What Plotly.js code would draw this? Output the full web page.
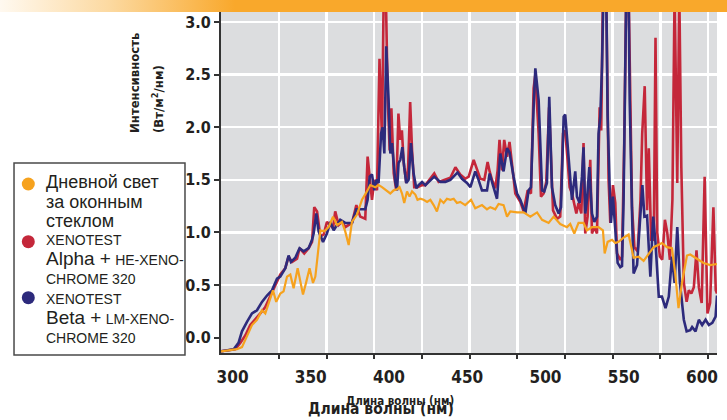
<!DOCTYPE html>
<html>
<head>
<meta charset="utf-8">
<script src="https://cdn.plot.ly/plotly-3.0.1.min.js"></script>
<style>
  html, body { margin: 0; padding: 0; background: #fff; }
  #wrap { position: relative; width: 727px; height: 420px; overflow: hidden; }
  #chart { position: absolute; left: 0; top: 0; width: 727px; height: 420px; }
  #band { position: absolute; left: 0; top: 0; width: 727px; height: 12px;
          background: linear-gradient(to right, #FFF9F0 0px, #FCD9A0 110px, #F9A82B 235px, #F9A82B 727px); }
</style>
</head>
<body>
<div id="wrap"><div id="chart"></div><div id="band"></div></div>
<script>
// ---- Data (wavelength in nm, intensity in W/m^2/nm) ----
const wlDaylight = [292.6,302.8,306.0,309.2,312.4,315.6,318.8,320.9,323.0,325.8,327.9,330.5,332.6,334.8,336.9,339.0,341.6,343.7,345.0,347.1,349.2,351.4,352.9,354.3,356.1,358.6,361.4,364.2,366.7,369.9,372.0,374.2,376.3,379.5,382.7,385.9,388.0,391.2,393.3,395.5,398.7,400.8,402.9,405.1,406.7,408.3,409.7,411.5,413.1,414.7,416.8,418.2,420.0,422.1,424.3,426.4,428.5,430.6,432.8,434.9,437.0,439.2,441.3,443.4,445.5,448.7,452.4,455.1,459.4,462.6,464.7,467.9,470.0,473.2,475.4,477.5,481.8,486.0,490.3,494.6,497.8,502.0,505.2,509.4,513.7,515.8,518.4,521.1,524.3,526.5,529.7,533.9,536.7,537.8,539.7,542.5,544.6,546.7,549.9,553.1,556.3,559.5,562.7,565.9,569.1,574.4,577.6,580.8,582.9,585.0,587.2,590.4,592.5,596.8,601.0,605.3,609.6];
const valDaylight = [-0.13,-0.11,-0.09,0.01,0.12,0.17,0.26,0.23,0.33,0.45,0.34,0.42,0.44,0.58,0.60,0.47,0.66,0.52,0.41,0.53,0.66,0.52,0.58,0.77,1.02,1.01,1.05,1.15,1.07,1.10,1.01,0.88,1.10,1.17,1.31,1.39,1.45,1.43,1.45,1.43,1.39,1.37,1.40,1.41,1.43,1.37,1.28,1.39,1.34,1.39,1.36,1.31,1.32,1.31,1.29,1.31,1.26,1.20,1.31,1.28,1.32,1.31,1.32,1.28,1.29,1.26,1.31,1.23,1.26,1.22,1.24,1.22,1.27,1.26,1.15,1.20,1.19,1.19,1.15,1.19,1.12,1.09,1.15,1.08,1.05,1.08,0.99,1.09,1.09,1.02,1.05,1.05,1.02,0.80,0.91,0.93,0.90,0.91,0.95,0.98,0.76,0.77,0.73,0.80,0.86,0.90,0.86,0.85,0.61,0.28,0.52,0.78,0.79,0.75,0.71,0.69,0.70];

const wlAlpha = [292.6,301.7,304.9,308.1,311.3,314.5,317.7,320.9,324.1,327.3,330.5,333.7,335.8,338.0,341.2,342.8,345.8,348.6,350.8,352.2,354.0,356.1,358.2,360.3,362.0,364.2,365.6,367.8,369.9,372.0,376.3,379.1,381.6,384.8,386.3,387.6,389.1,390.6,392.3,393.9,395.5,396.6,397.9,399.2,400.4,401.5,403.0,404.6,406.0,407.1,408.2,409.4,411.0,412.2,413.5,414.7,416.1,418.2,421.1,423.2,426.4,428.9,431.7,434.9,439.2,442.4,445.5,448.7,450.9,454.1,456.2,458.3,460.9,463.0,464.3,465.8,467.9,469.4,470.6,472.2,473.6,475.4,477.0,478.6,480.7,483.9,486.0,488.6,490.7,492.4,493.5,495.6,497.1,498.8,500.5,502.3,503.5,504.8,507.4,509.4,511.2,512.6,514.1,515.4,516.9,517.9,519.7,521.1,522.9,524.3,525.4,526.9,528.6,529.7,531.2,532.9,534.6,535.6,536.7,538.8,540.3,541.4,543.1,544.6,545.7,547.8,548.9,550.3,551.6,553.1,554.2,555.3,556.8,558.9,560.7,561.8,563.4,564.9,566.0,567.5,569.2,570.3,571.4,573.1,574.6,576.3,577.8,579.5,581.1,582.5,584.2,585.5,586.8,588.4,590.2,591.6,593.2,594.8,596.5,598.0,599.8,601.7,603.5,605.2,607.3,608.8,609.6];
const valAlpha = [-0.13,-0.11,-0.05,0.02,0.12,0.17,0.23,0.29,0.39,0.50,0.60,0.66,0.77,0.72,0.75,0.85,0.80,0.85,0.91,1.24,1.20,0.96,0.98,1.10,1.07,1.04,1.20,1.07,1.10,1.05,1.09,1.26,1.15,1.13,1.72,1.53,1.31,1.50,1.40,2.65,1.88,3.30,3.30,2.26,1.78,2.18,1.56,1.40,2.13,1.88,1.97,1.66,1.47,1.62,2.24,1.78,1.43,1.43,1.45,1.45,1.51,1.56,1.48,1.50,1.52,1.62,1.55,1.51,1.53,1.69,1.59,1.51,1.50,1.67,1.58,1.50,1.42,1.59,1.88,1.59,1.88,1.72,1.86,1.62,1.37,1.29,1.20,1.40,1.37,2.37,2.50,1.94,1.34,1.37,1.48,2.19,1.62,1.21,1.13,1.15,1.94,1.97,1.69,1.43,1.37,1.31,1.18,1.28,1.18,1.85,0.99,1.15,1.69,0.99,1.05,0.99,2.19,1.97,3.30,3.30,1.50,1.09,1.45,1.28,0.80,0.74,0.77,1.85,3.30,3.30,2.26,1.24,0.86,0.82,1.31,1.94,2.39,1.21,1.80,0.93,0.93,2.85,1.00,0.77,0.74,1.12,1.00,0.74,1.31,3.30,1.47,3.30,1.62,0.52,0.34,0.45,0.42,0.48,0.83,0.48,0.33,1.53,0.23,0.33,1.24,0.45,0.42];

const wlBeta = [292.6,300.7,303.8,306.0,309.2,312.4,315.6,318.8,322.0,325.2,328.4,330.5,333.7,335.8,337.3,340.1,342.8,345.4,348.6,350.8,351.8,353.5,355.0,357.8,360.3,362.5,364.6,366.7,368.8,372.0,376.3,379.1,382.7,384.8,386.3,387.6,389.1,390.6,391.9,393.3,394.9,395.9,397.0,398.2,399.7,400.8,401.9,402.9,404.0,405.1,406.1,407.2,408.5,409.7,411.0,412.5,414.0,415.7,417.4,418.9,421.1,423.2,426.4,428.9,432.8,436.0,439.2,441.3,443.8,446.6,449.8,452.0,455.1,457.2,459.4,462.6,464.3,466.4,469.0,471.1,473.2,475.4,477.0,479.6,481.8,483.9,487.1,489.2,490.7,492.4,493.5,495.6,497.8,499.2,500.9,502.4,504.1,506.2,508.4,509.9,511.6,512.6,513.7,515.4,516.9,517.9,519.0,520.1,521.8,523.3,524.3,525.4,526.5,528.0,529.7,531.2,532.9,533.9,535.0,536.1,537.1,538.8,539.7,540.9,541.8,543.1,544.6,546.1,547.8,548.9,549.9,551.0,551.6,553.1,553.8,555.3,556.3,558.5,560.7,561.9,563.2,564.9,567.0,568.8,570.3,572.4,574.4,576.7,578.8,580.8,582.5,584.2,585.9,588.4,590.2,592.5,593.7,595.9,598.0,600.1,602.3,604.4,606.6,608.7,609.6];
const valBeta = [-0.13,-0.11,-0.05,0.06,0.15,0.23,0.26,0.34,0.40,0.45,0.56,0.58,0.66,0.78,0.72,0.76,0.85,0.82,0.85,0.93,0.99,1.18,1.01,0.91,0.99,1.10,1.02,1.07,1.12,1.09,1.09,1.22,1.22,1.22,1.31,1.53,1.55,1.40,1.50,1.47,1.94,2.00,1.75,2.77,2.26,1.75,1.85,1.69,1.48,1.40,1.66,1.69,1.81,1.62,1.47,1.50,1.85,1.56,1.42,1.45,1.48,1.45,1.50,1.53,1.48,1.48,1.50,1.53,1.57,1.51,1.47,1.43,1.58,1.50,1.40,1.40,1.56,1.45,1.32,1.75,1.58,1.80,1.76,1.53,1.37,1.31,1.18,1.40,1.43,2.19,2.56,2.26,1.40,1.39,1.47,2.29,1.43,1.26,1.18,1.24,2.10,2.12,1.88,1.59,1.31,1.42,1.58,1.34,1.28,1.53,1.81,1.18,1.31,1.62,1.18,1.10,1.15,1.94,2.10,2.58,3.30,3.30,2.10,1.47,1.09,1.34,1.02,0.71,0.67,0.68,1.31,2.42,3.30,3.30,2.26,1.18,0.61,0.69,1.15,1.45,1.15,1.16,0.58,1.15,0.90,0.39,0.39,0.28,0.39,0.77,0.52,1.05,0.52,0.17,0.06,0.07,0.10,0.06,0.17,0.12,0.17,0.12,0.14,0.20,0.40];

const seriesNames = [
  '<span style="font-size:18px">Дневной свет</span><br><span style="font-size:18px">за оконным</span><br><span style="font-size:18px">стеклом</span>',
  '<span style="font-size:14px">XENOTEST</span><br><span style="font-size:19px">Alpha +</span> <span style="font-size:14px">HE-XENO-</span><br><span style="font-size:14px">CHROME 320</span>',
  '<span style="font-size:14px">XENOTEST</span><br><span style="font-size:19px">Beta +</span> <span style="font-size:14px">LM-XENO-</span><br><span style="font-size:14px">CHROME 320</span>'
];
const seriesColors = ['#F6A21E', '#C4273A', '#2D2A7C'];
const yTickVals = [0, 0.5, 1.0, 1.5, 2.0, 2.5, 3.0];
const xTickVals = [300, 350, 400, 450, 500, 550, 600];
const yTitleLines = ['Интенсивность', '(Вт/м<sup>2</sup>/нм)'];
const xTitle = 'Длина волны (нм)';

// ---- Layout helpers ----
const X_RANGE = [292.6, 609.6];
const Y_RANGE = [-0.146, 3.095];
const gridX = [];
for (let i = 0; i < 10; i++) gridX.push(329.6 + i * 30.47);
const NARROW = "'Liberation Sans Narrow', 'Arial Narrow', 'DejaVu Sans Condensed', sans-serif";
const SANS = "'Liberation Sans', Arial, 'Noto Sans', sans-serif";
const INK = '#231F20';

const traces = [
  { x: wlAlpha, y: valAlpha, xaxis: 'x', yaxis: 'y', mode: 'lines', line: { color: seriesColors[1], width: 2.6 }, name: 'Alpha', hoverinfo: 'skip' },
  { x: wlBeta, y: valBeta, xaxis: 'x', yaxis: 'y', mode: 'lines', line: { color: seriesColors[2], width: 2.6 }, name: 'Beta', hoverinfo: 'skip' },
  { x: wlDaylight, y: valDaylight, xaxis: 'x2', yaxis: 'y2', mode: 'lines', line: { color: seriesColors[0], width: 2.2 }, name: 'Daylight', hoverinfo: 'skip' }
];

// legend (manual, drawn as shapes + annotations in paper coords)
const legendTextY = [0.4457, 0.2739, 0.1026];
const legendMarkY = [0.4956, 0.3264, 0.1622];
const shapes = [
  { type: 'rect', xref: 'paper', yref: 'paper', x0: -0.4173, x1: -0.0726, y0: -0.0059, y1: 0.5572,
    line: { color: '#4a4a4a', width: 1.5 }, fillcolor: 'white', layer: 'above' }
];
const annotations = [];
seriesNames.forEach((nm, i) => {
  shapes.push({ type: 'circle', xref: 'paper', yref: 'paper', xsizemode: 'pixel', ysizemode: 'pixel',
    xanchor: -0.3885, yanchor: legendMarkY[i], x0: -6.5, x1: 6.5, y0: -6.5, y1: 6.5,
    fillcolor: seriesColors[i], line: { width: 0 }, layer: 'above' });
  annotations.push({ xref: 'paper', yref: 'paper', x: -0.3569, y: legendTextY[i], xanchor: 'left', yanchor: 'middle',
    align: 'left', showarrow: false, text: nm,
    font: { family: SANS, size: 15, color: INK } });
});
const yTitleX = [-0.1734, -0.1270];
yTitleLines.forEach((t, i) => {
  annotations.push({ xref: 'paper', yref: 'paper', x: yTitleX[i], y: 0.6393, xanchor: 'center', yanchor: 'bottom',
    textangle: -90, showarrow: false, text: t,
    font: { family: NARROW, size: 13, color: INK, weight: 'bold' } });
});
annotations.push({ xref: 'paper', yref: 'paper', x: 0.3226, y: -0.1642, xanchor: 'center', yanchor: 'middle',
  showarrow: false, text: xTitle, font: { family: NARROW, size: 15.5, color: INK, weight: 'bold' } });
annotations.push({ xref: 'paper', yref: 'paper', x: 0.3609, y: -0.1408, xanchor: 'center', yanchor: 'middle',
  showarrow: false, text: xTitle, font: { family: NARROW, size: 11.5, color: INK, weight: 'bold' } });

const layout = {
  width: 727, height: 420,
  margin: { l: 221, r: 10, t: 12, b: 67, pad: 0 },
  paper_bgcolor: 'white', plot_bgcolor: '#DCDDDF',
  showlegend: false,
  xaxis: { range: X_RANGE, tickmode: 'array', tickvals: gridX, showticklabels: false,
    ticks: 'outside', ticklen: 4, tickwidth: 2, tickcolor: '#333',
    showgrid: true, gridcolor: '#FFFFFF', gridwidth: 2.5, zeroline: false,
    showline: true, linecolor: '#333', linewidth: 2 },
  xaxis2: { overlaying: 'x', anchor: 'y2', side: 'bottom', range: X_RANGE, tickmode: 'array', tickvals: xTickVals,
    ticks: '', showgrid: false, zeroline: false, showline: false, ticklabelstandoff: 12,
    tickfont: { family: NARROW, size: 17, color: INK, weight: 'bold' } },
  yaxis: { range: Y_RANGE, tickmode: 'array', tickvals: yTickVals, tickformat: '.1f',
    ticks: 'outside', ticklen: 5, tickwidth: 2, tickcolor: '#333',
    showgrid: false, zeroline: false, showline: true, linecolor: '#333', linewidth: 2,
    tickfont: { family: NARROW, size: 16, color: INK, weight: 'bold' } },
  yaxis2: { overlaying: 'y', anchor: 'x2', side: 'left', range: Y_RANGE, tickmode: 'array',
    tickvals: yTickVals.filter(v => v > 0), showticklabels: false, ticks: '',
    showgrid: true, gridcolor: '#FFFFFF', gridwidth: 2.5, zeroline: false, showline: false },
  shapes: shapes,
  annotations: annotations
};

Plotly.newPlot('chart', traces, layout, { displayModeBar: false, staticPlot: true });
</script>
</body>
</html>
